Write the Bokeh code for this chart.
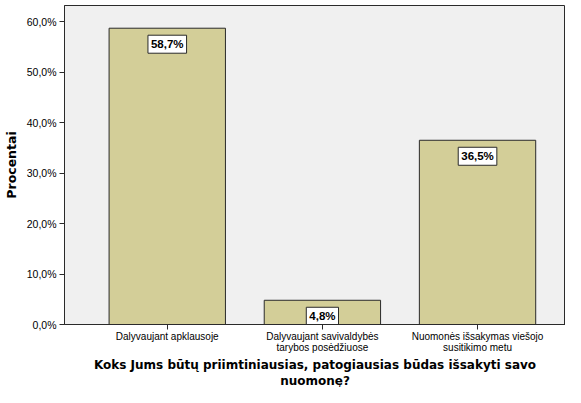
from bokeh.plotting import figure
from bokeh.models import ColumnDataSource, FixedTicker, Range1d, Title
from bokeh.core.properties import value
from bokeh.embed import file_html
from bokeh.resources import INLINE

categories = ["Dalyvaujant apklausoje",
              "Dalyvaujant savivaldybės\ntarybos posėdžiuose",
              "Nuomonės išsakymas viešojo\nsusitikimo metu"]
values = [58.7, 4.8, 36.5]
labels = ["58,7%", "4,8%", "36,5%"]
y_ticks = [0, 10, 20, 30, 40, 50, 60]
y_tick_labels = ["0,0%", "10,0%", "20,0%", "30,0%", "40,0%", "50,0%", "60,0%"]
x_title_lines = ["Koks Jums būtų priimtiniausias, patogiausias būdas išsakyti savo",
                 "nuomonę?"]
y_title = "Procentai"

xs = [1, 2, 3]
src = ColumnDataSource(dict(x=xs, top=values, lab=labels))

W, H = 565, 387
p = figure(width=W, height=H, output_backend="svg", toolbar_location=None,
           x_range=Range1d(0.3376, 3.567), y_range=Range1d(0, 63.2),
           min_border_left=58, min_border_right=0, min_border_top=5, min_border_bottom=50)
p.background_fill_color = "#F0F0F0"
p.border_fill_color = "white"
p.outline_line_color = "#2a2a2a"
p.outline_line_width = 1
p.grid.visible = False

p.vbar(x="x", top="top", width=0.75, bottom=0, source=src,
       fill_color="#D3CE98", line_color="#2a2a2a", line_width=1)

p.text(x="x", y="top", text="lab", source=src, y_offset=16,
       text_align="center", text_baseline="middle",
       text_font=value("Liberation Sans"), text_font_style="bold",
       text_font_size="11.5px", text_color="black",
       background_fill_color="white", border_line_color="#2a2a2a",
       padding=3)

title_font = "DejaVu Sans"

p.xaxis.ticker = FixedTicker(ticks=xs)
p.xaxis.major_label_overrides = {x: c for x, c in zip(xs, categories)}
p.xaxis.major_label_text_font = "Liberation Sans"
p.xaxis.major_label_text_font_size = "10px"
p.xaxis.major_label_text_line_height = 1.0
p.xaxis.major_label_text_color = "black"
p.xaxis.major_label_standoff = 1
p.xaxis.major_tick_out = 5
p.xaxis.major_tick_in = 0
p.xaxis.major_tick_line_color = "#2a2a2a"
p.xaxis.minor_tick_line_color = None
p.xaxis.axis_line_color = "#2a2a2a"

for line in x_title_lines:
    p.add_layout(Title(text=line, align="center", standoff=0, offset=0,
                       text_font=title_font, text_font_style="bold",
                       text_font_size="12px", text_color="black"), "below")

p.yaxis.ticker = FixedTicker(ticks=y_ticks)
p.yaxis.major_label_overrides = {t: l for t, l in zip(y_ticks, y_tick_labels)}
p.yaxis.major_label_text_font = "Liberation Sans"
p.yaxis.major_label_text_font_size = "10.5px"
p.yaxis.major_label_text_color = "black"
p.yaxis.major_label_standoff = 3
p.yaxis.major_tick_out = 5
p.yaxis.major_tick_in = 0
p.yaxis.major_tick_line_color = "#2a2a2a"
p.yaxis.minor_tick_line_color = None
p.yaxis.axis_line_color = "#2a2a2a"
p.yaxis.axis_label = y_title
p.yaxis.axis_label_text_font = title_font
p.yaxis.axis_label_text_font_style = "bold"
p.yaxis.axis_label_text_font_size = "12.5px"
p.yaxis.axis_label_text_color = "black"
p.yaxis.axis_label_standoff = 5

open("out.html", "w").write(file_html(p, INLINE))
